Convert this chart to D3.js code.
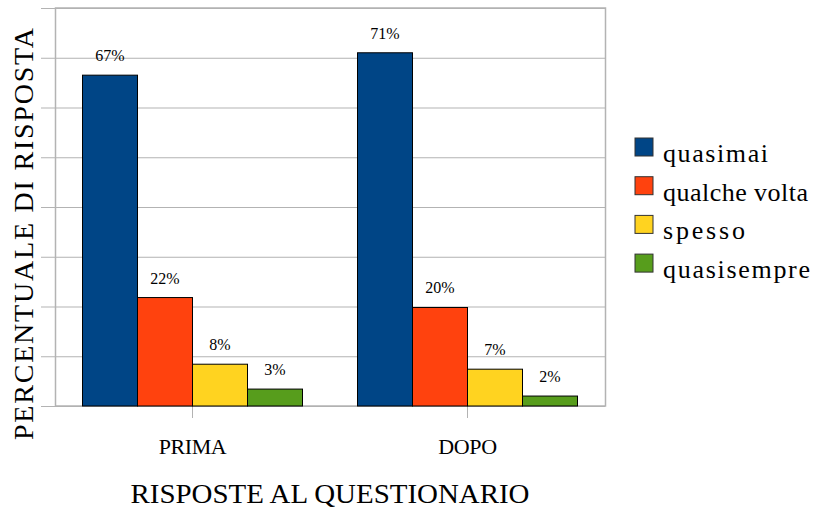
<!DOCTYPE html>
<html lang="it">
  <head>
    <meta charset="utf-8">
    <title>Risposte al questionario</title>
    <style>
      body { margin: 0; background: #fff; }
    </style>
  </head>
  <body>
    <script src="https://cdn.jsdelivr.net/npm/d3@7"></script>
    <script>
      // data (percent)
      var categories = ["PRIMA", "DOPO"];
      var seriesNames = ["quasi mai", "qualche volta", "spesso", "quasi sempre"];
      var seriesColors = ["#004586", "#ff420e", "#ffd320", "#579d1c"];
      var prima = [66.5, 21.8, 8.4, 3.4];
      var dopo = [71.0, 19.8, 7.4, 2.0];
      var yTicks = [0, 10, 20, 30, 40, 50, 60, 70, 80];

      var legendLabels = ["quasimai", "qualche volta", "spesso", "quasisempre"];
      var legendWidths = [105, 145, 82, 147];

      var FONT = "'Liberation Serif', 'Times New Roman', Times, serif";
      var width = 814, height = 510;
      var margin = {top: 8, right: 209, bottom: 104, left: 55};

      var rows = [];
      categories.forEach(function (c, ci) {
        var vals = ci === 0 ? prima : dopo;
        seriesNames.forEach(function (s, si) {
          rows.push({cat: c, series: s, idx: si, value: vals[si]});
        });
      });

      var svg = d3.select("body").append("svg")
        .attr("width", width)
        .attr("height", height)
        .attr("viewBox", [0, 0, width, height])
        .style("font-family", FONT);

      var x0 = d3.scaleBand(categories, [margin.left, width - margin.right])
        .paddingInner(0.2)
        .paddingOuter(0.1);
      var x1 = d3.scaleBand(seriesNames, [0, x0.bandwidth()]);
      var y = d3.scaleLinear([0, 80], [height - margin.bottom, margin.top]);
      var color = d3.scaleOrdinal(seriesNames, seriesColors);

      // grid lines + left ticks
      svg.append("g")
        .attr("transform", `translate(${margin.left},0)`)
        .call(d3.axisLeft(y).tickValues(yTicks).tickSize(14).tickFormat(""))
        .call(g => g.select(".domain").remove())
        .call(g => g.selectAll(".tick line").attr("stroke", "#b3b3b3"))
        .call(g => g.selectAll(".tick line").clone()
          .attr("x1", 0)
          .attr("x2", width - margin.left - margin.right)
          .attr("stroke", "#b3b3b3"));

      // frame
      svg.append("rect")
        .attr("x", margin.left + 0.5)
        .attr("y", margin.top)
        .attr("width", width - margin.left - margin.right)
        .attr("height", height - margin.top - margin.bottom)
        .attr("fill", "none")
        .attr("stroke", "#b3b3b3")
        .attr("stroke-width", 1.5);

      // category axis
      svg.append("g")
        .attr("transform", `translate(0,${height - margin.bottom})`)
        .call(d3.axisBottom(x0).tickSize(12).tickPadding(20))
        .call(g => g.select(".domain").remove())
        .call(g => g.selectAll(".tick line").attr("stroke", "#b3b3b3"))
        .call(g => g.selectAll(".tick text")
          .attr("font-size", 22)
          .attr("letter-spacing", -0.4)
          .attr("fill", "#000")
          .style("font-family", FONT));

      // bars
      svg.append("g")
        .selectAll("rect")
        .data(rows)
        .join("rect")
        .attr("x", d => x0(d.cat) + x1(d.series))
        .attr("y", d => y(d.value))
        .attr("width", x1.bandwidth())
        .attr("height", d => y(0) - y(d.value))
        .attr("fill", d => color(d.series))
        .attr("stroke", "#000")
        .attr("stroke-width", 1);

      // value labels
      svg.append("g")
        .selectAll("text")
        .data(rows)
        .join("text")
        .attr("x", d => x0(d.cat) + x1(d.series) + x1.bandwidth() / 2)
        .attr("y", d => y(d.value) - 14)
        .attr("text-anchor", "middle")
        .attr("font-size", 16)
        .style("font-family", FONT)
        .text(d => Math.round(d.value) + "%");

      // axis titles
      svg.append("text")
        .attr("transform", "translate(33,234) rotate(-90)")
        .attr("text-anchor", "middle")
        .attr("font-size", 28)
        .attr("textLength", 412)
        .attr("lengthAdjust", "spacing")
        .style("font-family", FONT)
        .text("PERCENTUALE DI RISPOSTA");

      svg.append("text")
        .attr("x", (margin.left + width - margin.right) / 2)
        .attr("y", 503)
        .attr("text-anchor", "middle")
        .attr("font-size", 28)
        .attr("textLength", 399)
        .attr("lengthAdjust", "spacingAndGlyphs")
        .style("font-family", FONT)
        .text("RISPOSTE AL QUESTIONARIO");

      // legend
      var legend = svg.append("g")
        .attr("transform", "translate(635,138)")
        .selectAll("g")
        .data(seriesNames)
        .join("g")
        .attr("transform", (d, i) => `translate(0,${i * 38.7})`);

      legend.append("rect")
        .attr("width", 18)
        .attr("height", 18)
        .attr("fill", d => color(d))
        .attr("stroke", "#333")
        .attr("stroke-width", 1);

      legend.append("text")
        .attr("x", 28)
        .attr("y", 24)
        .attr("font-size", 26)
        .attr("textLength", (d, i) => legendWidths[i])
        .attr("lengthAdjust", "spacing")
        .style("font-family", FONT)
        .text((d, i) => legendLabels[i]);
    </script>
  </body>
</html>
